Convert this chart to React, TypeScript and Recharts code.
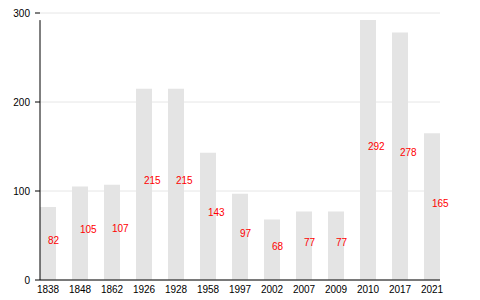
import React from 'react';
import { BarChart, Bar, XAxis, YAxis, CartesianGrid, ReferenceLine, LabelList } from 'recharts';

const years = ['1838', '1848', '1862', '1926', '1928', '1958', '1997', '2002', '2007', '2009', '2010', '2017', '2021'];
const counts = [82, 105, 107, 215, 215, 143, 97, 68, 77, 77, 292, 278, 165];
const yTicks = [0, 100, 200, 300];

const data = years.map((year, i) => ({ year, value: counts[i] }));
const maxVal = Math.max(...counts);

const FONT = '"Liberation Sans", Arial, Helvetica, sans-serif';

const MidLabel = (props: any) => {
  const { x, y, width, height, value } = props;
  return (
    <text
      x={Number(x) + Number(width) / 2}
      y={Number(y) + Number(height) / 2}
      fill="red"
      fontSize={10}
      fontFamily={FONT}
      textAnchor="start"
    >
      {value}
    </text>
  );
};

export default function App() {
  return (
    <div style={{ position: 'absolute', left: 0, top: 0, width: 480, height: 300, background: '#fff' }}>
      <BarChart
        width={480}
        height={300}
        data={data}
        margin={{ top: 13, right: 40, bottom: 0, left: 0 }}
        barCategoryGap="25%"
        style={{ fontFamily: FONT }}
      >
        <CartesianGrid horizontal vertical={false} stroke="#e6e6e6" />
        <XAxis
          dataKey="year"
          height={20}
          padding={{ left: -8, right: -8 }}
          tickLine={false}
          tickSize={0}
          tickMargin={6}
          axisLine={{ stroke: '#000' }}
          tick={{ fill: '#000', fontSize: 10, fontFamily: FONT }}
          interval={0}
        />
        <XAxis xAxisId="n" type="number" domain={[0, 1]} hide />
        <YAxis
          width={40}
          domain={[0, 300]}
          ticks={yTicks}
          axisLine={false}
          tickLine={{ stroke: '#000' }}
          tickSize={5}
          tickMargin={5}
          tick={{ fill: '#000', fontSize: 10, fontFamily: FONT }}
        />
        <Bar dataKey="value" fill="#e4e4e4" isAnimationActive={false}>
          <LabelList dataKey="value" content={<MidLabel />} />
        </Bar>
        <ReferenceLine
          xAxisId="n"
          segment={[{ x: 0, y: 0 }, { x: 0, y: maxVal }]}
          stroke="#000"
          strokeWidth={1}
          ifOverflow="visible"
        />
      </BarChart>
    </div>
  );
}
